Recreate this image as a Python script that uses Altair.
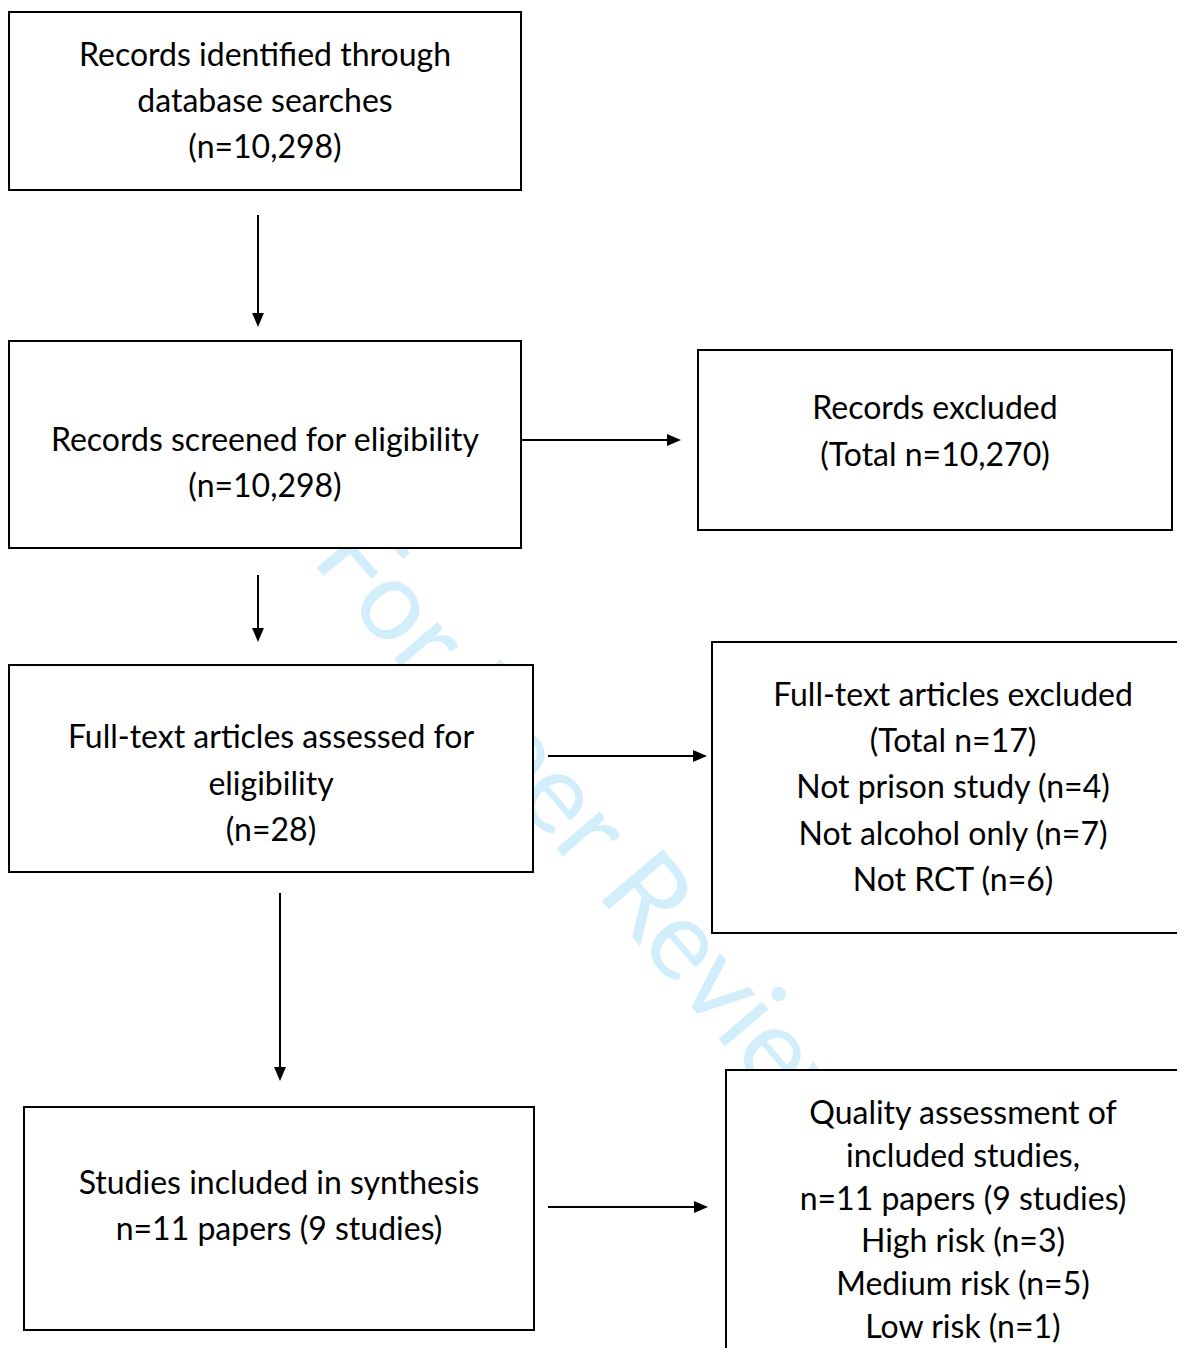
import altair as alt
import pandas as pd

# ---- content ----
box_lines = [
    ["Records identified through", "database searches", "(n=10,298)"],
    ["Records screened for eligibility", "(n=10,298)"],
    ["Records excluded", "(Total n=10,270)"],
    ["Full-text articles assessed for", "eligibility", "(n=28)"],
    ["Full-text articles excluded", "(Total n=17)", "Not prison study (n=4)",
     "Not alcohol only (n=7)", "Not RCT (n=6)"],
    ["Studies included in synthesis", "n=11 papers (9 studies)"],
    ["Quality assessment of", "included studies,", "n=11 papers (9 studies)",
     "High risk (n=3)", "Medium risk (n=5)", "Low risk (n=1)"],
]
watermark_text = ["For Peer Review"]

# ---- layout (page pixel coordinates) ----
box_x0 = [9, 9, 698, 9, 712, 24, 726]
box_x1 = [521, 521, 1172, 533, 1210, 534, 1210]
box_y0 = [12, 341, 350, 665, 642, 1107, 1070]
box_y1 = [190, 548, 530, 872, 933, 1330, 1390]
text_cx = [265, 265, 935, 271, 953, 279, 963]
text_y0 = [56, 441, 409, 738, 696, 1184, 1114]
line_gap = [46, 46, 47, 46.5, 46.2, 46, 42.8]

arrow_x0 = [258, 522, 258, 548, 280, 548]
arrow_y0 = [215, 440, 575, 756, 893, 1207]
arrow_x1 = [258, 681, 258, 707, 280, 708]
arrow_y1 = [327, 440, 642, 756, 1081, 1207]

W, H = 1169, 1340
xs = alt.Scale(domain=[8, 8 + W], nice=False, zero=False)
ys = alt.Scale(domain=[8, 8 + H], nice=False, zero=False, reverse=True)

boxes = pd.DataFrame({"x0": box_x0, "x1": box_x1, "y0": box_y0, "y1": box_y1})

rows = []
for i, lines in enumerate(box_lines):
    for j, t in enumerate(lines):
        rows.append({"x": text_cx[i], "y": text_y0[i] + j * line_gap[i], "t": t})
texts = pd.DataFrame(rows)

head_len = 14
shafts, heads_v, heads_h = [], [], []
for x0, y0, x1, y1 in zip(arrow_x0, arrow_y0, arrow_x1, arrow_y1):
    if x0 == x1:
        shafts.append({"x0": x0, "y0": y0, "x1": x1, "y1": y1 - head_len + 2})
        heads_v.append({"x": x1, "y": y1 - head_len / 2})
    else:
        shafts.append({"x0": x0, "y0": y0, "x1": x1 - head_len + 2, "y1": y1})
        heads_h.append({"x": x1 - head_len / 2, "y": y1})
shafts = pd.DataFrame(shafts)
heads_v = pd.DataFrame(heads_v)
heads_h = pd.DataFrame(heads_h)

wm = pd.DataFrame({"x": [310], "y": [560], "t": watermark_text})

watermark = alt.Chart(wm).mark_text(
    angle=49.5, align="left", baseline="alphabetic", fontSize=112,
    font="Lato", color="#d3eefb", clip=True
).encode(x=alt.X("x:Q", scale=xs, axis=None), y=alt.Y("y:Q", scale=ys, axis=None), text="t:N")

rects = alt.Chart(boxes).mark_rect(
    fill="white", stroke="black", strokeWidth=2, clip=True
).encode(
    x=alt.X("x0:Q", scale=xs, axis=None), x2="x1:Q",
    y=alt.Y("y0:Q", scale=ys, axis=None), y2="y1:Q",
)

labels = alt.Chart(texts).mark_text(
    align="center", baseline="middle", fontSize=32, font="Lato", color="black"
).encode(x=alt.X("x:Q", scale=xs, axis=None), y=alt.Y("y:Q", scale=ys, axis=None), text="t:N")

rules = alt.Chart(shafts).mark_rule(color="black", strokeWidth=2).encode(
    x=alt.X("x0:Q", scale=xs, axis=None), x2="x1:Q",
    y=alt.Y("y0:Q", scale=ys, axis=None), y2="y1:Q",
)

hv = alt.Chart(heads_v).mark_point(
    shape="M-0.85,-1L0.85,-1L0,1Z", filled=True, color="black", opacity=1, size=head_len ** 2
).encode(x=alt.X("x:Q", scale=xs, axis=None), y=alt.Y("y:Q", scale=ys, axis=None))

hh = alt.Chart(heads_h).mark_point(
    shape="M-1,-0.85L1,0L-1,0.85Z", filled=True, color="black", opacity=1, size=head_len ** 2
).encode(x=alt.X("x:Q", scale=xs, axis=None), y=alt.Y("y:Q", scale=ys, axis=None))

chart = alt.layer(watermark, rects, labels, rules, hv, hh).properties(
    width=W, height=H, autosize=alt.AutoSizeParams(type="none"), padding=0,
    background="white",
).configure_view(stroke=None)

chart.save("out.html", embed_options={"renderer": "svg", "actions": False})
